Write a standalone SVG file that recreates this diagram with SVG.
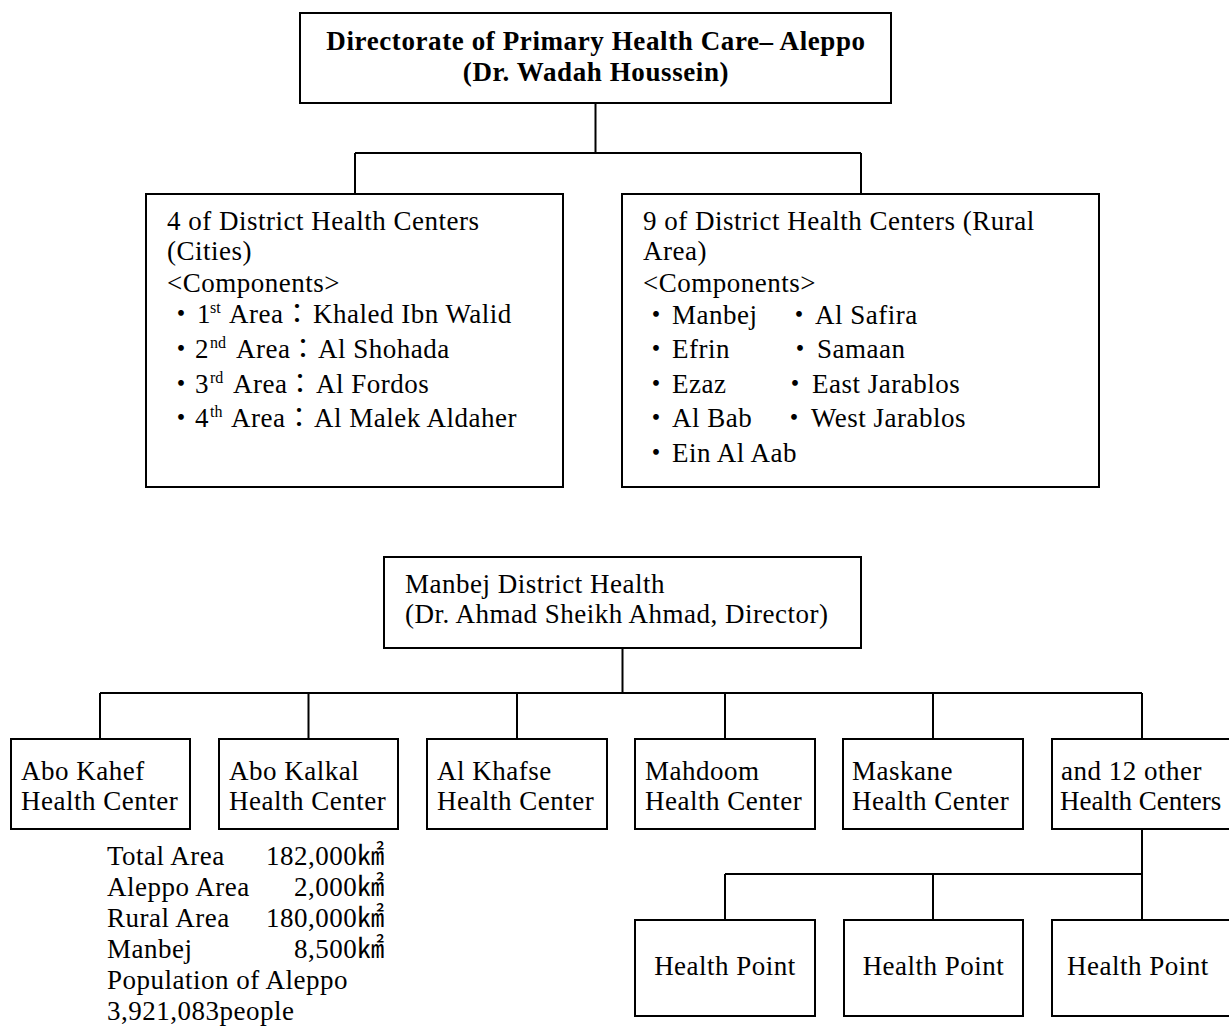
<svg xmlns="http://www.w3.org/2000/svg" width="1229" height="1028" viewBox="0 0 1229 1028">
<style>
.box{fill:#fff;stroke:#000;stroke-width:2}
.ln{fill:none;stroke:#000;stroke-width:2}
text{font-family:"Liberation Serif","Noto Sans CJK JP",serif;font-size:27px;fill:#000;letter-spacing:0.5px}
.b{font-weight:bold;letter-spacing:0.6px}
.sup{font-size:16px;letter-spacing:0}
.c{text-anchor:middle}
.tight{letter-spacing:0}
</style>
<rect width="1229" height="1028" fill="#fff"/>
<g id="connectors">
<path class="ln" d="M595.5,103V153M355,153H861M355,153V194M861,153V194"/>
<path class="ln" d="M622.5,648V693M100,693H1142M100,693V739M308.5,693V739M517,693V739M725,693V739M933,693V739M1142,693V739"/>
<path class="ln" d="M1142,829V874M725,874H1142M725,874V920M933,874V920M1142,874V920"/>
</g>
<g id="directorate">
<rect class="box" x="300" y="13" width="591" height="90"/>
<text class="b c" x="596" y="50">Directorate of Primary Health Care– Aleppo</text>
<text class="b c" x="596" y="81">(Dr. Wadah Houssein)</text>
</g>
<g id="cities">
<rect class="box" x="146" y="194" width="417" height="293"/>
<text x="167" y="230">4 of District Health Centers</text>
<text x="167" y="260">(Cities)</text>
<text x="167" y="292">&lt;Components&gt;</text>
<text y="323"><tspan x="167.5">・</tspan><tspan x="197">1</tspan><tspan class="sup" x="210" dy="-10">st</tspan><tspan x="229" dy="10">Area</tspan><tspan x="283.5">：</tspan><tspan x="313">Khaled Ibn Walid</tspan></text>
<text y="358"><tspan x="167.5">・</tspan><tspan x="195">2</tspan><tspan class="sup" x="210" dy="-10">nd</tspan><tspan x="236" dy="10">Area</tspan><tspan x="289.5">：</tspan><tspan x="318">Al Shohada</tspan></text>
<text y="393"><tspan x="167.5">・</tspan><tspan x="195">3</tspan><tspan class="sup" x="210" dy="-10">rd</tspan><tspan x="233" dy="10">Area</tspan><tspan x="286.5">：</tspan><tspan x="316">Al Fordos</tspan></text>
<text y="427"><tspan x="167.5">・</tspan><tspan x="195">4</tspan><tspan class="sup" x="210" dy="-10">th</tspan><tspan x="231" dy="10">Area</tspan><tspan x="285.5">：</tspan><tspan x="314">Al Malek Aldaher</tspan></text>
</g>
<g id="rural">
<rect class="box" x="622" y="194" width="477" height="293"/>
<text x="643" y="230">9 of District Health Centers (Rural</text>
<text x="643" y="260">Area)</text>
<text x="643" y="292">&lt;Components&gt;</text>
<text y="324"><tspan x="642.5">・</tspan><tspan x="672">Manbej</tspan><tspan x="785.5">・</tspan><tspan x="815">Al Safira</tspan></text>
<text y="358"><tspan x="642.5">・</tspan><tspan x="672">Efrin</tspan><tspan x="786.5">・</tspan><tspan x="817">Samaan</tspan></text>
<text y="393"><tspan x="642.5">・</tspan><tspan x="672">Ezaz</tspan><tspan x="781.5">・</tspan><tspan x="812">East Jarablos</tspan></text>
<text y="427"><tspan x="642.5">・</tspan><tspan x="672">Al Bab</tspan><tspan x="780.5">・</tspan><tspan x="811">West Jarablos</tspan></text>
<text y="462"><tspan x="642.5">・</tspan><tspan x="672">Ein Al Aab</tspan></text>
</g>
<g id="manbej">
<rect class="box" x="384" y="557" width="477" height="91"/>
<text x="405" y="593">Manbej District Health</text>
<text x="405" y="623">(Dr. Ahmad Sheikh Ahmad, Director)</text>
</g>
<g id="abo-kahef">
<rect class="box" x="11" y="739" width="179" height="90"/>
<text x="21" y="780">Abo Kahef</text>
<text x="21" y="810">Health Center</text>
</g>
<g id="abo-kalkal">
<rect class="box" x="219" y="739" width="179" height="90"/>
<text x="229" y="780">Abo Kalkal</text>
<text x="229" y="810">Health Center</text>
</g>
<g id="al-khafse">
<rect class="box" x="427" y="739" width="180" height="90"/>
<text x="437" y="780">Al Khafse</text>
<text x="437" y="810">Health Center</text>
</g>
<g id="mahdoom">
<rect class="box" x="635" y="739" width="180" height="90"/>
<text x="645" y="780">Mahdoom</text>
<text x="645" y="810">Health Center</text>
</g>
<g id="maskane">
<rect class="box" x="843" y="739" width="180" height="90"/>
<text x="852" y="780">Maskane</text>
<text x="852" y="810">Health Center</text>
</g>
<g id="others">
<rect class="box" x="1052" y="739" width="180" height="90"/>
<text x="1061" y="780">and 12 other</text>
<text class="tight" x="1060" y="810">Health Centers</text>
</g>
<g id="hp1">
<rect class="box" x="635" y="920" width="180" height="96"/>
<text class="c" x="725" y="975">Health Point</text>
</g>
<g id="hp2">
<rect class="box" x="844" y="920" width="179" height="96"/>
<text class="c" x="933.5" y="975">Health Point</text>
</g>
<g id="hp3">
<rect class="box" x="1052" y="920" width="180" height="96"/>
<text x="1067" y="975">Health Point</text>
</g>
<g id="stats">
<text x="107" y="865">Total Area</text><text x="266" y="865">182,000㎢</text>
<text x="107" y="896">Aleppo Area</text><text x="294" y="896">2,000㎢</text>
<text x="107" y="927">Rural Area</text><text x="266" y="927">180,000㎢</text>
<text x="107" y="958">Manbej</text><text x="294" y="958">8,500㎢</text>
<text x="107" y="989">Population of Aleppo</text>
<text x="107" y="1020">3,921,083people</text>
</g>
</svg>
